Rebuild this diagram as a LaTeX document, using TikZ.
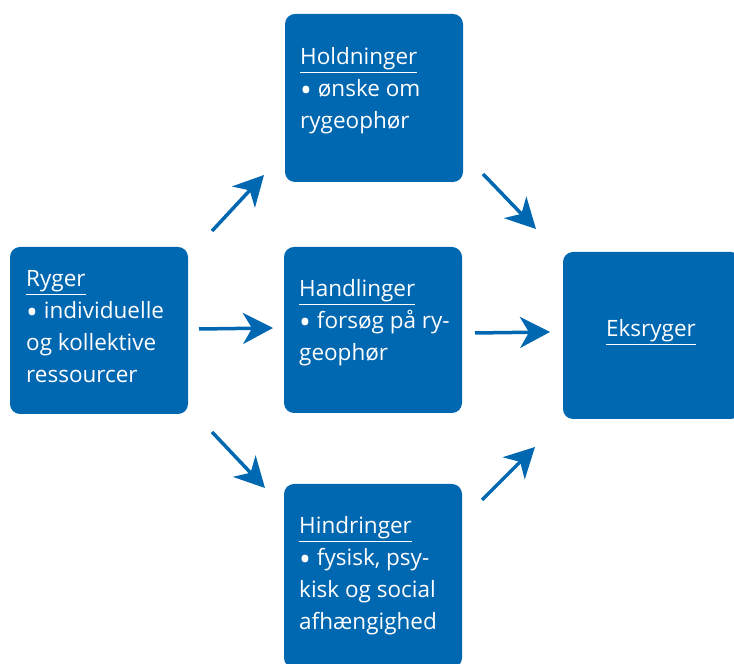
\documentclass[tikz,border=0pt]{standalone}
\usepackage{fontspec}
\setmainfont{Open Sans}
\usetikzlibrary{arrows.meta,positioning}
\definecolor{boxblue}{HTML}{0067B1}
\tikzset{>=Stealth}
\newcommand*{\hd}[1]{\underline{#1}}
\newcommand*{\bul}{\raisebox{-0.4ex}{\scalebox{1.4}{\textbullet}}}

\begin{document}
\begin{tikzpicture}[x=1pt,y=1pt,
  box/.style={fill=boxblue,rounded corners=10pt,inner sep=0pt,minimum width=178pt},
  txt/.style={anchor=base west,align=left,text=white,inner sep=0pt,
    font=\fontsize{22.5}{32}\selectfont},
  arr/.style={boxblue,line width=3.5pt,->,>={Stealth[length=30pt,width=31pt,inset=9pt]}}]
\useasboundingbox (0,0) rectangle (734,664);
\node[box,minimum height=167pt] (ryger) at (99,333.5) {};
\node[box,minimum height=168pt] (hold) at (374,566) {};
\node[box,minimum height=166pt] (hand) at (373,334) {};
\node[box,minimum height=184pt] (hind) at (373,88) {};
\node[box,minimum height=167pt] (eks) at (652,328.5) {};
% base anchor sits on the last line
\node[txt] (rygertxt) at (26,281) {\hd{Ryger}\\\bul{} individuelle\\og kollektive\\ressourcer};
\node[txt] (holdtxt) at (300,535) {\hd{Holdninger}\\\bul{} ønske om\\rygeophør};
\node[txt] (handtxt) at (299,303) {\hd{Handlinger}\\\bul{} forsøg på ry-\\geophør};
\node[txt] (hindtxt) at (299,34) {\hd{Hindringer}\\\bul{} fysisk, psy-\\kisk og social\\afhængighed};
\node[txt,anchor=base] (ekstxt) at (651,327) {\hd{Eksryger}};
% arrows
\coordinate (A1a) at (212,433); \coordinate (A1b) at (264,489);
\coordinate (A2a) at (199,335); \coordinate (A2b) at (273,336);
\coordinate (A3a) at (212,232); \coordinate (A3b) at (265,176);
\coordinate (A4a) at (483,490); \coordinate (A4b) at (536,435);
\coordinate (A5a) at (475,331); \coordinate (A5b) at (550,332);
\coordinate (A6a) at (482,164); \coordinate (A6b) at (535,217);
\foreach \i in {1,...,6}
  \draw[arr] (A\i a) -- (A\i b);
\end{tikzpicture}
\end{document}
